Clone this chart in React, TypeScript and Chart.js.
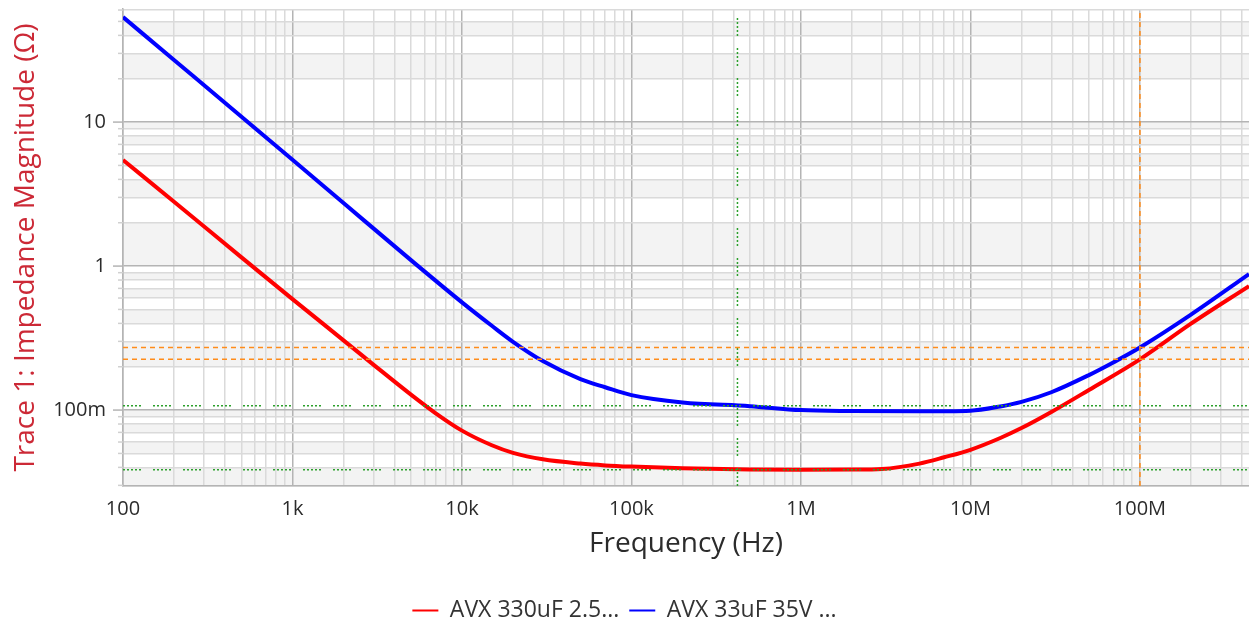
import React, { useEffect, useRef } from "react";
import { Chart, registerables } from "chart.js";
Chart.register(...registerables);

// Axis ranges
const X_MIN = 100;
const X_MAX = 4.4e8;
const Y_MIN = 0.0297;
const Y_MAX = 61;

// Series: AVX 330uF 2.5V (red)
const freqRed = [100, 200, 500, 1e3, 2e3, 3e3, 5e3, 7e3, 1e4, 1.5e4, 2e4, 3e4, 5e4, 7e4, 1e5, 2e5, 5e5, 1e6, 2e6, 3e6, 5e6, 7e6, 1e7, 1.5e7, 2e7, 3e7, 5e7, 1e8, 2e8, 4.4e8];
const zRed = [5.45, 2.8, 1.15, 0.59, 0.305, 0.207, 0.128, 0.095, 0.072, 0.057, 0.0505, 0.0455, 0.0425, 0.0413, 0.0405, 0.0394, 0.0387, 0.0385, 0.0386, 0.039, 0.0425, 0.047, 0.053, 0.064, 0.075, 0.097, 0.138, 0.225, 0.398, 0.726];

// Series: AVX 33uF 35V (blue)
const freqBlue = [100, 200, 500, 1e3, 2e3, 5e3, 1e4, 1.5e4, 2e4, 3e4, 5e4, 7e4, 1e5, 2e5, 5e5, 1e6, 2e6, 5e6, 1e7, 1.5e7, 2e7, 3e7, 5e7, 7e7, 1e8, 2e8, 4.4e8];
const zBlue = [53.6, 27.0, 10.9, 5.47, 2.74, 1.1, 0.56, 0.385, 0.298, 0.219, 0.164, 0.144, 0.127, 0.113, 0.1065, 0.1, 0.0985, 0.098, 0.099, 0.106, 0.114, 0.133, 0.175, 0.215, 0.272, 0.46, 0.88];

const seriesLabels = ["AVX 330uF 2.5...", "AVX 33uF 35V ..."];

// Cursors
const orangeCursorX = 1e8;
const orangeCursorY = [0.272, 0.225];
const greenCursorX = 4.22e5;
const greenCursorY = [0.107, 0.0385];

// Tick labels
const xMajorTicks = [100, 1e3, 1e4, 1e5, 1e6, 1e7, 1e8];
const xTickLabels = ["100", "1k", "10k", "100k", "1M", "10M", "100M"];
const yMajorTicks = [0.01, 0.1, 1, 10];
const yTickLabels = ["10m", "100m", "1", "10"];

const FONT = "'Open Sans', 'Noto Sans', sans-serif";

function logTicks(min: number, max: number) {
  const out: number[] = [];
  for (let e = Math.floor(Math.log10(min)); e <= Math.ceil(Math.log10(max)); e++) {
    for (let m = 1; m <= 9; m++) {
      const v = parseFloat((m * Math.pow(10, e)).toPrecision(6));
      if (v >= min && v <= max) out.push(v);
    }
  }
  return out;
}

function isMajor(v: number, majors: number[]) {
  return majors.some((m) => Math.abs(v / m - 1) < 1e-6);
}

function labelFor(v: number, majors: number[], labels: string[]) {
  const i = majors.findIndex((m) => Math.abs(v / m - 1) < 1e-6);
  return i >= 0 ? labels[i] : "";
}

const bandsPlugin = {
  id: "bands",
  beforeDraw(chart: any) {
    const { ctx, chartArea, scales } = chart;
    const y = scales.y;
    const tickVals = y.ticks.map((t: any) => t.value);
    ctx.save();
    ctx.fillStyle = "#f3f3f3";
    for (let i = 0; i < tickVals.length - 1; i++) {
      if (i % 2 === 0) {
        const y0 = y.getPixelForValue(tickVals[i]);
        const y1 = y.getPixelForValue(tickVals[i + 1]);
        ctx.fillRect(chartArea.left, y1, chartArea.right - chartArea.left, y0 - y1);
      }
    }
    if ((tickVals.length - 1) % 2 === 0) {
      const y0 = y.getPixelForValue(tickVals[tickVals.length - 1]);
      ctx.fillRect(chartArea.left, chartArea.top, chartArea.right - chartArea.left, y0 - chartArea.top);
    }
    ctx.restore();
  },
  afterDraw(chart: any) {
    const { ctx, chartArea, scales } = chart;
    const y = scales.y;
    ctx.save();
    ctx.lineWidth = 1.5;
    y.ticks.forEach((t: any) => {
      const py = y.getPixelForValue(t.value);
      const major = isMajor(t.value, yMajorTicks);
      ctx.strokeStyle = major ? "#b4b4b4" : "#d0d0d0";
      ctx.beginPath();
      ctx.moveTo(chartArea.left - (major ? 10 : 5), py);
      ctx.lineTo(chartArea.left, py);
      ctx.stroke();
    });
    ctx.restore();
  },
};

export default function App() {
  const ref = useRef<HTMLCanvasElement | null>(null);
  useEffect(() => {
    document.body.style.margin = "0";
    const canvas = ref.current!;
    const redData = freqRed.map((f, i) => ({ x: f, y: zRed[i] }));
    const blueData = freqBlue.map((f, i) => ({ x: f, y: zBlue[i] }));
    const orange = "#ff8c1a";
    const green = "#2ca02c";
    const greenDash = [2, 2, 2, 2, 2, 2, 2, 2, 2, 12];
    const cursor = (data: any[], color: string, dash: number[]) => ({
      label: "",
      data,
      borderColor: color,
      backgroundColor: color,
      borderWidth: 1.5,
      borderDash: dash,
      pointRadius: 0,
      tension: 0,
      order: 0,
    });
    const chart = new Chart(canvas, {
      type: "line",
      data: {
        datasets: [
          {
            label: seriesLabels[0],
            data: redData,
            borderColor: "#ff0000",
            backgroundColor: "#ff0000",
            borderWidth: 4,
            pointRadius: 0,
            cubicInterpolationMode: "monotone",
            order: 1,
          },
          {
            label: seriesLabels[1],
            data: blueData,
            borderColor: "#0000ff",
            backgroundColor: "#0000ff",
            borderWidth: 4,
            pointRadius: 0,
            cubicInterpolationMode: "monotone",
            order: 2,
          },
          cursor([{ x: X_MIN, y: orangeCursorY[0] }, { x: X_MAX, y: orangeCursorY[0] }], orange, [5, 4]),
          cursor([{ x: X_MIN, y: orangeCursorY[1] }, { x: X_MAX, y: orangeCursorY[1] }], orange, [5, 4]),
          cursor([{ x: orangeCursorX, y: Y_MIN }, { x: orangeCursorX, y: Y_MAX }], orange, [5, 4]),
          cursor([{ x: X_MIN, y: greenCursorY[0] }, { x: X_MAX, y: greenCursorY[0] }], green, greenDash),
          cursor([{ x: X_MIN, y: greenCursorY[1] }, { x: X_MAX, y: greenCursorY[1] }], green, greenDash),
          cursor([{ x: greenCursorX, y: Y_MIN }, { x: greenCursorX, y: Y_MAX }], green, greenDash),
        ] as any,
      },
      options: {
        animation: false,
        responsive: false,
        devicePixelRatio: 1,
        parsing: false as any,
        layout: { padding: { left: 0, right: 0, top: 9, bottom: -8 } },
        plugins: {
          tooltip: { enabled: false },
          legend: {
            position: "bottom",
            labels: {
              usePointStyle: true,
              pointStyleWidth: 26,
              padding: 10,
              color: "#333333",
              font: { family: FONT, size: 23 },
              generateLabels: (ch: any) =>
                (Chart.defaults.plugins.legend.labels as any)
                  .generateLabels(ch)
                  .filter((l: any) => l.datasetIndex < 2)
                  .map((l: any) => ({ ...l, lineWidth: 2, pointStyle: "line", lineDash: [] })),
            },
          },
        },
        scales: {
          x: {
            type: "logarithmic",
            min: X_MIN,
            max: X_MAX,
            afterBuildTicks: (s: any) => {
              s.ticks = logTicks(X_MIN, X_MAX).map((v) => ({ value: v }));
            },
            afterFit: (s: any) => {
              s.height = 103;
              s.paddingLeft = 0;
              s.paddingRight = 0;
            },
            ticks: {
              autoSkip: false,
              maxRotation: 0,
              padding: 11,
              color: "#2b2b2b",
              font: { family: FONT, size: 20 },
              callback: (v: any) => labelFor(Number(v), xMajorTicks, xTickLabels),
            },
            grid: {
              drawTicks: false,
              lineWidth: 1.5,
              color: (c: any) => (c.tick && isMajor(c.tick.value, xMajorTicks) ? "#b4b4b4" : "#dadada"),
            },
            border: { display: true, color: "#b4b4b4", width: 1.5 },
            title: {
              display: true,
              text: "Frequency (Hz)",
              color: "#2b2b2b",
              font: { family: FONT, size: 28 },
              padding: { top: 0, bottom: 28 },
            },
          },
          y: {
            type: "logarithmic",
            min: Y_MIN,
            max: Y_MAX,
            afterBuildTicks: (s: any) => {
              s.ticks = logTicks(Y_MIN, Y_MAX).map((v) => ({ value: v }));
            },
            afterFit: (s: any) => {
              s.width = 123;
              s.paddingTop = 0;
              s.paddingBottom = 0;
            },
            ticks: {
              autoSkip: false,
              padding: 17,
              color: "#2b2b2b",
              font: { family: FONT, size: 20 },
              callback: (v: any) => labelFor(Number(v), yMajorTicks, yTickLabels),
            },
            grid: {
              drawTicks: false,
              lineWidth: 1.5,
              color: (c: any) => (c.tick && isMajor(c.tick.value, yMajorTicks) ? "#b4b4b4" : "#dadada"),
            },
            border: { display: true, color: "#b4b4b4", width: 1.5 },
            title: {
              display: true,
              text: "Trace 1: Impedance Magnitude (Ω)",
              color: "#cc2936",
              font: { family: FONT, size: 28 },
              padding: { top: 9, bottom: 0 },
            },
          },
        },
      } as any,
      plugins: [bandsPlugin],
    });
    return () => chart.destroy();
  }, []);
  return (
    <div style={{ width: 1249, height: 624 }}>
      <canvas ref={ref} width={1249} height={624} style={{ display: "block" }} />
    </div>
  );
}
